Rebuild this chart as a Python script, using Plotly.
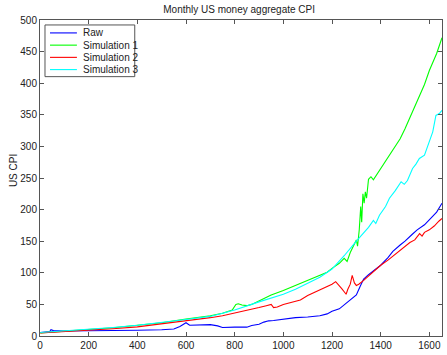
import plotly.graph_objects as go

# ---- data: monthly CPI series (month index, CPI level) ----
raw_month = [1, 20, 40, 45, 55, 100, 200, 300, 400, 500, 550, 575, 600, 615, 650, 700,
             730, 750, 800, 850, 870, 900, 920, 940, 960, 1000, 1050, 1100, 1150, 1180,
             1200, 1230, 1260, 1280, 1300, 1315, 1330, 1350, 1380, 1400, 1430, 1450,
             1480, 1500, 1530, 1550, 1580, 1600, 1630, 1652]
raw_cpi = [5.5, 6, 7, 10, 8.5, 8, 8, 8, 9, 10, 11, 15, 21, 17, 17.5, 18,
           16, 13.5, 14, 14, 16.5, 18.5, 22, 24, 24.5, 27, 29, 30, 32, 35,
           39, 43, 52, 58, 65, 78, 90, 97, 106, 112, 124, 134,
           144, 150, 161, 168, 176, 184, 196, 210]

sim1_month = [1, 100, 200, 300, 400, 500, 600, 700, 750, 790, 805, 815, 830, 850, 870,
              890, 920, 950, 1000, 1050, 1100, 1150, 1180, 1200, 1230, 1250, 1262, 1275,
              1290, 1300, 1305, 1312, 1318, 1322, 1327, 1332, 1337, 1342, 1350, 1360,
              1370, 1385, 1400, 1430, 1450, 1480, 1500, 1530, 1550, 1580, 1600, 1630, 1652]
sim1_cpi = [5, 7.5, 10, 13, 17, 21, 27, 32, 36, 41, 50, 51, 49, 48, 50,
            54, 60, 65, 72, 80, 88, 96, 101, 107, 115, 123, 118, 132,
            145, 152, 142, 168, 205, 180, 225, 210, 228, 218, 248, 252,
            247, 256, 265, 283, 295, 312, 328, 355, 372, 398, 420, 447, 472]

sim2_month = [1, 100, 200, 300, 400, 500, 600, 700, 750, 800, 850, 900, 930, 950, 960,
              975, 1000, 1030, 1050, 1070, 1100, 1150, 1180, 1200, 1215, 1230, 1240,
              1250, 1258, 1265, 1275, 1283, 1292, 1300, 1310, 1330, 1350, 1380, 1400,
              1430, 1450, 1480, 1500, 1520, 1540, 1560, 1570, 1580, 1600, 1620, 1640, 1652]
sim2_cpi = [5, 7, 9, 11.5, 14.5, 19, 24, 29, 32, 36, 41, 45, 48, 50, 45,
            46, 50, 53, 56, 57, 64, 73, 78, 82, 86, 80, 75,
            70, 66, 74, 82, 96, 84, 80, 82, 88, 95, 104, 112,
            120, 126, 136, 141, 148, 152, 162, 158, 164, 168, 174, 182, 186]

sim3_month = [1, 100, 200, 300, 400, 500, 600, 700, 800, 900, 1000, 1050, 1100, 1150,
              1200, 1250, 1300, 1330, 1350, 1370, 1380, 1395, 1420, 1436, 1460, 1484,
              1497, 1510, 1531, 1545, 1559, 1580, 1600, 1614, 1627, 1641, 1652]
sim3_cpi = [5.5, 8, 10.5, 13.5, 17, 21, 26, 31, 41, 54, 66, 74, 83, 93,
            106, 127, 150, 163, 172, 183, 178, 191, 205, 218, 230, 244,
            240, 246, 265, 272, 281, 286, 307, 323, 349, 352, 357]

series_names = ["Raw", "Simulation 1", "Simulation 2", "Simulation 3"]
series_colors = ["#0000ff", "#00ff00", "#ff0000", "#00ffff"]
x_ticks = [0, 200, 400, 600, 800, 1000, 1200, 1400, 1600]
y_ticks = [0, 50, 100, 150, 200, 250, 300, 350, 400, 450, 500]

# ---- figure ----
W, H = 447, 355
ML, MR, MT, MB = 40, 4, 20, 17
FONT = "Liberation Sans, Arial, Helvetica, sans-serif"
TXT = "#222222"
AX = "#555555"

fig = go.Figure()
for xs, ys, name, col in zip([raw_month, sim1_month, sim2_month, sim3_month],
                             [raw_cpi, sim1_cpi, sim2_cpi, sim3_cpi],
                             series_names, series_colors):
    fig.add_trace(go.Scatter(x=xs, y=ys, mode="lines", name=name,
                             line=dict(color=col, width=1.1), showlegend=False))

axis_common = dict(showline=True, linecolor=AX, linewidth=1, mirror="ticks",
                   ticks="inside", ticklen=4, tickcolor=AX, showgrid=False,
                   zeroline=False, tickfont=dict(family=FONT, size=10, color=TXT))

fig.update_layout(
    width=W, height=H,
    margin=dict(l=ML, r=MR, t=MT, b=MB),
    paper_bgcolor="white", plot_bgcolor="white",
    font=dict(family=FONT, size=10, color=TXT),
    title=dict(text="Monthly US money aggregate CPI", x=0.535, xanchor="center",
               y=1 - 9 / H, yanchor="middle", yref="container",
               font=dict(family=FONT, size=10, color=TXT)),
    xaxis=dict(range=[0, 1652], tickvals=x_ticks, **axis_common),
    yaxis=dict(range=[0, 500], tickvals=y_ticks, **axis_common),
)

# ---- helpers for placing items in pixel terms on the paper ----
pw, ph = W - ML - MR, H - MT - MB


def px(x):
    return (x - ML) / pw


def py(y):
    return (H - MB - y) / ph


# y-axis title
annotations = [dict(xref="paper", yref="paper", x=px(13), y=py(172),
                    xanchor="center", yanchor="middle", showarrow=False,
                    text="US CPI", textangle=-90,
                    font=dict(family=FONT, size=10, color=TXT))]

# legend box
shapes = [dict(type="rect", xref="paper", yref="paper",
               x0=px(45), x1=px(135), y0=py(77), y1=py(25),
               line=dict(color=AX, width=1), fillcolor="white", layer="above")]
for i, (name, col) in enumerate(zip(series_names, series_colors)):
    yy = 33 + i * 12.3
    shapes.append(dict(type="line", xref="paper", yref="paper",
                       x0=px(50), x1=px(77), y0=py(yy), y1=py(yy),
                       line=dict(color=col, width=1.1), layer="above"))
    annotations.append(dict(xref="paper", yref="paper", x=px(81), y=py(yy),
                            xanchor="left", yanchor="middle", showarrow=False,
                            text=name, font=dict(family=FONT, size=10, color=TXT)))
fig.update_layout(shapes=shapes, annotations=annotations)

fig.write_html("out.html")
